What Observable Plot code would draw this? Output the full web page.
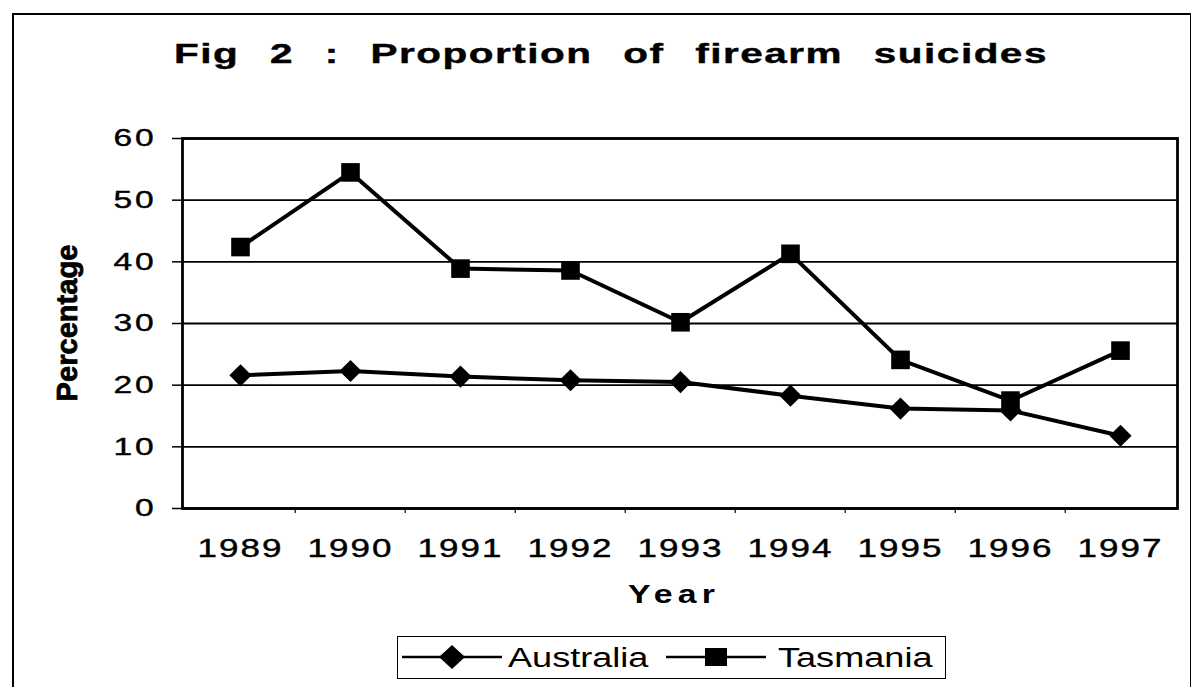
<!DOCTYPE html>
<html>
<head>
<meta charset="utf-8">
<script src="https://cdn.jsdelivr.net/npm/d3@7"></script>
<script src="https://cdn.jsdelivr.net/npm/@observablehq/plot@0.6"></script>
<style>
  body { margin: 0; background: #fff; }
  #wrap { position: relative; width: 1192px; height: 687px; overflow: hidden; background: #fff;
          font-family: "Liberation Sans", Arial, sans-serif; color: #000; }
  #border { position: absolute; left: 12px; top: 13px; width: 1176px; height: 700px;
            border-left: 2px solid #000; border-top: 2px solid #000; border-right: 1.5px solid #000; }
  #chart { position: absolute; left: 0; top: 0; }
  .htxt { position: absolute; white-space: nowrap; line-height: 1; }
  #title { left: 611px; top: 41px; font-size: 27px; font-weight: bold; letter-spacing: 1px; word-spacing: 12px;
           transform: translateX(-50%) scaleX(1.5); transform-origin: center; -webkit-text-stroke: 0.4px #000; }
  #xlabel { left: 674px; top: 581px; font-size: 26px; font-weight: bold; letter-spacing: 4px;
            transform: translateX(-50%) scaleX(1.3); transform-origin: center; }
  #ylabel { left: 67px; top: 323px; font-size: 30px; font-weight: bold; -webkit-text-stroke: 0.8px #000;
            transform: translate(-50%, -50%) rotate(-90deg) scaleX(0.97); transform-origin: center; }
  #legend { position: absolute; left: 397px; top: 636px; width: 549px; height: 43px;
            border: 1.5px solid #000; box-sizing: border-box; }
</style>
</head>
<body>
<div id="wrap">
  <div id="border"></div>
  <div id="chart"></div>
  <div id="title" class="htxt"></div>
  <div id="xlabel" class="htxt"></div>
  <div id="ylabel" class="htxt"></div>
  <div id="legend"></div>
</div>
<script>
// ---- data ----
const titleText = "Fig 2 : Proportion of firearm suicides";
const xTitle = "Year";
const yTitle = "Percentage";
const years = ["1989", "1990", "1991", "1992", "1993", "1994", "1995", "1996", "1997"];
const australia = [21.6, 22.3, 21.4, 20.8, 20.5, 18.3, 16.2, 15.9, 11.8];
const tasmania = [42.4, 54.5, 38.9, 38.6, 30.2, 41.3, 24.1, 17.5, 25.6];
const yTicks = [0, 10, 20, 30, 40, 50, 60];
const seriesNames = ["Australia", "Tasmania"];

// ---- build ----
const rows = years.flatMap((yr, i) => [
  {year: yr, value: australia[i], series: seriesNames[0]},
  {year: yr, value: tasmania[i], series: seriesNames[1]}
]);

const W = 1192, H = 687, mL = 182, mR = 15, mT = 138, mB = 179;
const halfStep = (W - mL - mR) / years.length / 2;

const chart = Plot.plot({
  width: W, height: H,
  marginTop: mT, marginBottom: mB, marginLeft: mL, marginRight: mR,
  style: {fontFamily: "'Liberation Sans', Arial, sans-serif", background: "transparent", color: "#000", overflow: "visible"},
  x: {type: "point", domain: years, padding: 0.5},
  y: {domain: [0, 60]},
  marks: [
    Plot.gridY(yTicks, {stroke: "#000", strokeOpacity: 1, strokeWidth: 1.8}),
    Plot.axisY(yTicks, {tickSize: 10, tickPadding: 16, fontSize: 24, label: null, strokeWidth: 1.5}),
    Plot.axisX(years, {tickSize: 0, tickPadding: 31, fontSize: 25, label: null}),
    Plot.axisX(years.slice(1), {tickSize: 5, tickFormat: () => "", dx: -halfStep, label: null, strokeWidth: 1.2}),
    Plot.frame({stroke: "#000", strokeWidth: 2.8}),
    Plot.line(rows, {x: "year", y: "value", z: "series", stroke: "#000", strokeWidth: 4}),
    Plot.dot(rows.filter(d => d.series === seriesNames[0]), {x: "year", y: "value", symbol: () => "diamond2", fill: "#000", stroke: null, r: 10}),
    Plot.dot(rows.filter(d => d.series === seriesNames[1]), {x: "year", y: "value", symbol: () => "square", fill: "#000", stroke: null, r: 10.5})
  ]
});
document.getElementById("chart").appendChild(chart);

// stretch tick labels horizontally to match the scanned look
function stretch(sel, s, ls) {
  chart.querySelectorAll(sel).forEach(t => {
    t.style.letterSpacing = ls + "px";
    t.style.stroke = "#000"; t.style.strokeWidth = "0.4px";
    const tr = t.getAttribute("transform");
    if (tr) {
      t.setAttribute("transform", tr + ` scale(${s},1)`);
    } else {
      const x = +t.getAttribute("x") || 0, y = +t.getAttribute("y") || 0;
      t.setAttribute("x", 0); t.setAttribute("y", 0);
      t.setAttribute("transform", `translate(${x},${y}) scale(${s},1)`);
    }
  });
}
stretch('g[aria-label="x-axis tick label"] text', 1.4, 1.5);
stretch('g[aria-label="y-axis tick label"] text', 1.4, 2);

document.getElementById("title").textContent = titleText;
document.getElementById("xlabel").textContent = xTitle;
document.getElementById("ylabel").textContent = yTitle;

// legend
const legend = document.getElementById("legend");
const ns = "http://www.w3.org/2000/svg";
const lsvg = document.createElementNS(ns, "svg");
lsvg.setAttribute("width", 546); lsvg.setAttribute("height", 40);
lsvg.style.position = "absolute"; lsvg.style.left = "0"; lsvg.style.top = "0";
const entries = [
  {name: seriesNames[0], x0: 4, sym: "diamond", tx: 110},
  {name: seriesNames[1], x0: 268, sym: "square", tx: 380}
];
entries.forEach(e => {
  const line = document.createElementNS(ns, "line");
  line.setAttribute("x1", e.x0); line.setAttribute("x2", e.x0 + 100);
  line.setAttribute("y1", 20); line.setAttribute("y2", 20);
  line.setAttribute("stroke", "#000"); line.setAttribute("stroke-width", 2.5);
  lsvg.appendChild(line);
  const cx = e.x0 + 50;
  const p = document.createElementNS(ns, "path");
  if (e.sym === "diamond") p.setAttribute("d", `M${cx-13},20L${cx},8L${cx+13},20L${cx},32Z`);
  else p.setAttribute("d", `M${cx-11},11h22v18h-22Z`);
  p.setAttribute("fill", "#000");
  lsvg.appendChild(p);
  const t = document.createElementNS(ns, "text");
  t.setAttribute("x", 0); t.setAttribute("y", 0);
  t.setAttribute("transform", `translate(${e.tx},30) scale(1.29,1)`);
  t.setAttribute("font-size", 28);
  t.setAttribute("font-family", "'Liberation Sans', Arial, sans-serif");
  t.textContent = e.name;
  lsvg.appendChild(t);
});
legend.appendChild(lsvg);
</script>
</body>
</html>
